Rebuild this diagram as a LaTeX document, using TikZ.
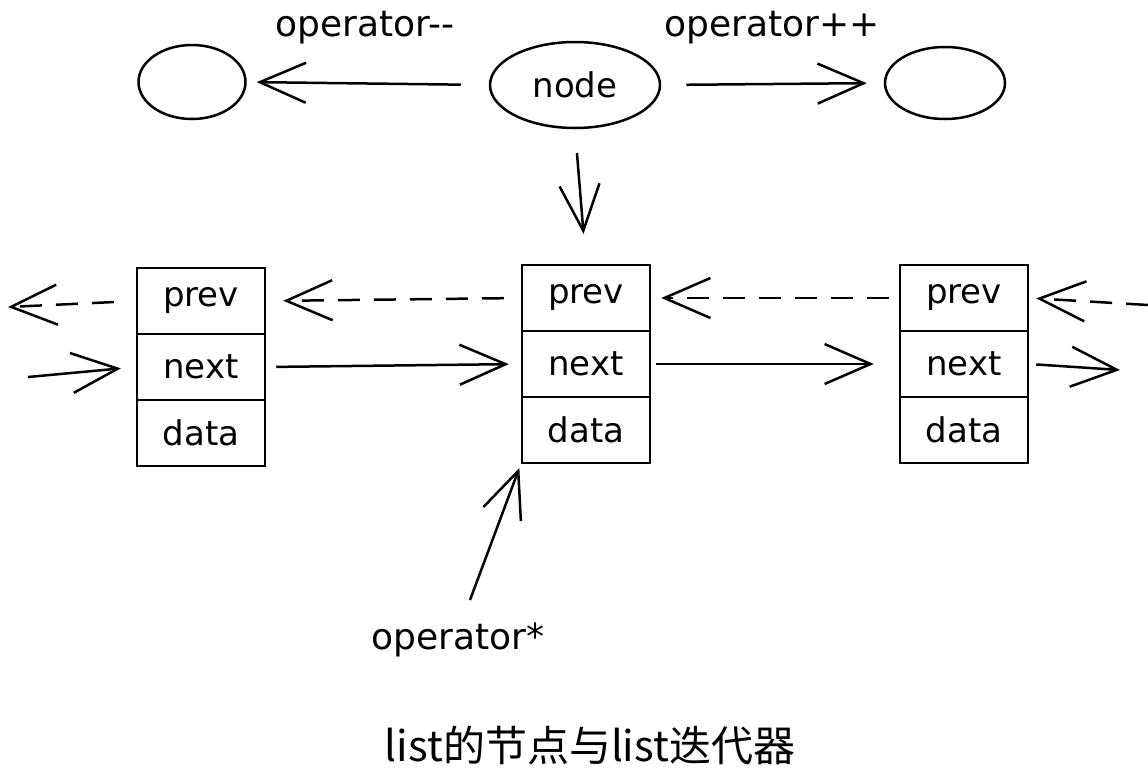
\documentclass[tikz,border=0pt]{standalone}
\usepackage{fontspec}
\setmainfont{DejaVu Sans}
\newfontfamily\cjkfont{Noto Sans CJK SC}
\usetikzlibrary{arrows.meta,shapes.geometric}

\begin{document}
\begin{tikzpicture}[x=1pt,y=-1pt,line width=2.5pt]
        \useasboundingbox (0,0) rectangle (1148,780);
        \begin{scope}[every node/.style={draw,ellipse,inner sep=0pt,font=\fontsize{34}{38}\selectfont}]
            \node[minimum width=107pt,minimum height=74pt] (prv) at (192,82) {};
            \node[minimum width=170pt,minimum height=86pt] (nd) at (575,85) {node};
            \node[minimum width=120pt,minimum height=72pt] (nxt) at (945,83) {};
        \end{scope}
        \begin{scope}[every node/.style={draw,rectangle,minimum width=128pt,minimum height=66pt,inner sep=0pt,font=\fontsize{34}{38}\selectfont}]
            \node (p1) at (201,301) {prev};
            \node (n1) at (201,367) {next};
            \node (d1) at (201,433) {data};

            \node (p2) at (586,298) {prev};
            \node (n2) at (586,364) {next};
            \node (d2) at (586,430) {data};

            \node (p3) at (964,298) {prev};
            \node (n3) at (964,364) {next};
            \node (d3) at (964,430) {data};
        \end{scope}
        \begin{scope}[every node/.style={font=\fontsize{36}{40}\selectfont}]
            \node (dec) at (365,28) {operator{-}{-}};
            \node (inc) at (772,28) {operator++};
            \node (deref) at (458,640) {operator*};
            \node (cap) at (590,745) {\cjkfont\fontsize{42}{46}\selectfont list的节点与list迭代器};
        \end{scope}
        \coordinate (lin) at (28,377);
        \coordinate (lout) at (8,307);
        \coordinate (rin) at (1148,305);
        \coordinate (rout) at (1120,370);
        \coordinate (star) at (470,600);
        \begin{scope}[every edge/.style={draw,line width=2.5pt},>={Straight Barb[length=46pt,width=40pt]}]
            \path [->] (nd.west) edge[shorten <=28pt,shorten >=10pt] (prv.east);
            \path [->] (nd.east) edge[shorten <=25pt,shorten >=17pt] (nxt.west);
            \path [->] (nd.south) edge[shorten <=24pt,shorten >=30pt] (p2.north);

            \path [->] (p1.west) edge[dashed,dash pattern=on 22pt off 14pt,shorten <=22pt] (lout);
            \path [->] (p2.west) edge[dashed,dash pattern=on 22pt off 14pt,shorten <=17pt,shorten >=17pt] (p1.east);
            \path [->] (p3.west) edge[dashed,dash pattern=on 22pt off 14pt,shorten <=10pt,shorten >=10pt] (p2.east);
            \path [->] (rin) edge[dashed,dash pattern=on 22pt off 14pt,shorten >=7pt] (p3.east);

            \path [->] (lin) edge[shorten >=15pt] (n1.west);
            \path [->] (n1.east) edge[shorten <=10pt,shorten >=12pt] (n2.west);
            \path [->] (n2.east) edge[shorten <=5pt,shorten >=25pt] (n3.west);
            \path [->] (n3.east) edge[shorten <=7pt] (rout);

            \path [->] (star) edge[shorten >=4pt] (d2.south west);
        \end{scope}
    \end{tikzpicture}
\end{document}
